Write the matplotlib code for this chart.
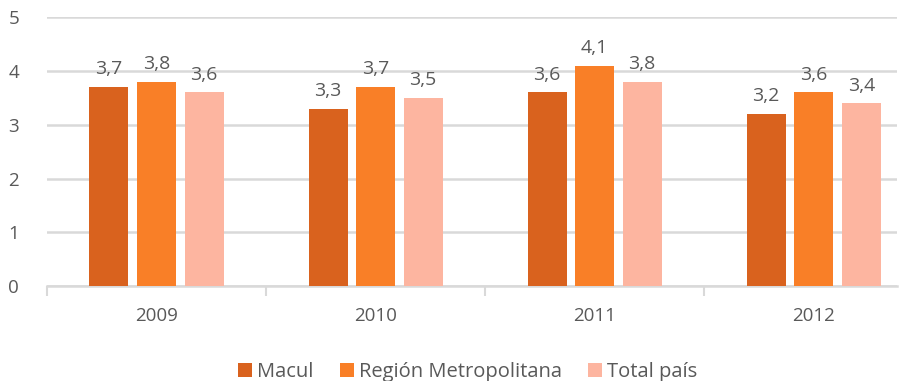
import numpy as np
import matplotlib.pyplot as plt

# Datos
years = ['2009', '2010', '2011', '2012']
macul = [3.7, 3.3, 3.6, 3.2]
region_metro = [3.8, 3.7, 4.1, 3.6]
total_pais = [3.6, 3.5, 3.8, 3.4]

series = [('Macul', macul, '#D9621E'),
          ('Región Metropolitana', region_metro, '#F97F27'),
          ('Total país', total_pais, '#FDB5A0')]

plt.rcParams['font.family'] = ['Open Sans', 'DejaVu Sans']
gris = '#595959'

fig = plt.figure(figsize=(9.09, 3.81), dpi=100)
ax = fig.add_axes([0.0517, 0.249, 0.935, 0.706])

x = np.arange(len(years))
ancho = 0.178
paso = 0.217

for i, (nombre, vals, color) in enumerate(series):
    pos = x + (i - 1) * paso
    ax.bar(pos, vals, width=ancho, color=color, label=nombre, zorder=3)
    for px, v in zip(pos, vals):
        ax.text(px, v + 0.16, f'{v:.1f}'.replace('.', ','), ha='center', va='bottom',
                fontsize=14, color=gris)

ax.set_xlim(-0.5, 3.38)
ax.set_ylim(0, 5)
ax.set_yticks(range(6))
ax.yaxis.grid(True, color='#D9D9D9', linewidth=1.8, zorder=0)
ax.set_axisbelow(True)

ax.set_xticks(x)
ax.set_xticklabels(years)
ax.set_xticks(np.arange(-0.5, len(years) - 0.5), minor=True)
ax.tick_params(axis='x', which='major', length=0, pad=15, labelsize=13.5, labelcolor=gris)
ax.tick_params(axis='x', which='minor', length=7, width=1.5, color='#D9D9D9')
ax.tick_params(axis='y', length=0, pad=20, labelsize=13.5, labelcolor=gris)

for lado in ['top', 'right', 'left']:
    ax.spines[lado].set_visible(False)
ax.spines['bottom'].set_color('#D9D9D9')
ax.spines['bottom'].set_linewidth(1.8)

ax.legend(loc='upper center', bbox_to_anchor=(0.495, -0.215), ncol=3, frameon=False,
          fontsize=14.5, labelcolor=gris, handlelength=0.7, handleheight=0.7,
          handletextpad=0.25, columnspacing=1.3)

fig.savefig('out.png', dpi=100)
